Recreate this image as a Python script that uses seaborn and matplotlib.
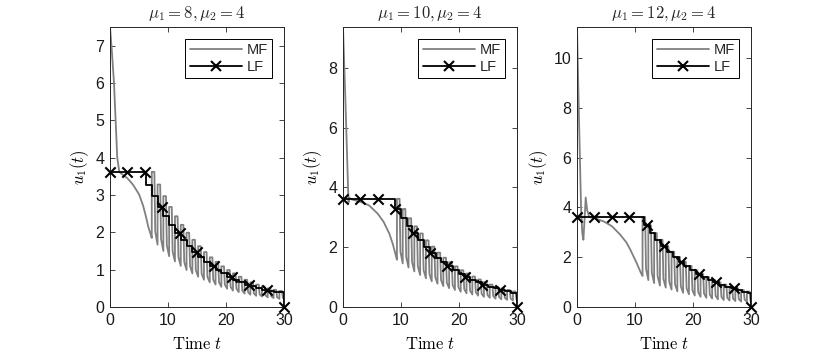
import numpy as np
import pandas as pd
import matplotlib
matplotlib.use("Agg")
import matplotlib.pyplot as plt
from matplotlib.lines import Line2D
import seaborn as sns

# ---------------- data ----------------
titles = [r"$\mu_1 = 8, \mu_2 = 4$", r"$\mu_1 = 10, \mu_2 = 4$", r"$\mu_1 = 12, \mu_2 = 4$"]
y_tops = [7.5, 9.37, 11.25]
y_ticks = [[0, 1, 2, 3, 4, 5, 6, 7], [0, 2, 4, 6, 8], [0, 2, 4, 6, 8, 10]]
x_ticks = [0, 10, 20, 30]
marker_t = [0, 3, 6, 9, 12, 15, 18, 21, 24, 27, 30]

# LF (step function, steps-post)
lf1_t = [0, 6.2, 7.2, 8.2, 9.2, 10.2, 11.2, 12.2, 13.2, 14.2, 15.2, 16.2, 17.2, 18.2,
         19.2, 20.2, 21.2, 22.2, 23.2, 24.2, 25.2, 26.2, 27.2, 28.2, 29.2, 30]
lf1_u = [3.62, 3.28, 2.97, 2.68, 2.43, 2.20, 1.99, 1.80, 1.63, 1.47, 1.33, 1.21, 1.09, 0.99,
         0.90, 0.81, 0.73, 0.66, 0.60, 0.55, 0.50, 0.46, 0.43, 0.41, 0.39, 0.0]
lf2_t = [0, 8.95, 9.95, 10.95, 11.95, 12.95, 13.95, 14.95, 15.95, 16.95, 17.95, 18.95,
         19.95, 20.95, 21.95, 22.95, 23.95, 24.95, 25.95, 26.95, 27.95, 28.95, 30]
lf2_u = [3.62, 3.28, 2.97, 2.70, 2.46, 2.23, 2.02, 1.82, 1.65, 1.50, 1.36, 1.23,
         1.12, 1.02, 0.92, 0.83, 0.75, 0.68, 0.62, 0.57, 0.52, 0.47, 0.0]
lf3_t = [0, 11.5, 12.5, 13.5, 14.5, 15.5, 16.5, 17.5, 18.5, 19.5, 20.5, 21.5, 22.5,
         23.5, 24.5, 25.5, 26.5, 27.5, 28.5, 29.5, 30]
lf3_u = [3.62, 3.28, 2.97, 2.70, 2.45, 2.22, 2.01, 1.82, 1.65, 1.47, 1.32, 1.20, 1.09,
         0.99, 0.90, 0.82, 0.75, 0.68, 0.62, 0.56, 0.0]

# MF: smooth initial part
mf1_t0 = [0, 0.3, 0.69, 0.97, 1.25, 1.6, 2.2, 3.0, 4.0, 5.0, 5.7, 6.2, 6.6, 6.9, 7.2]
mf1_u0 = [7.5, 6.9, 6.0, 5.0, 4.0, 3.62, 3.54, 3.45, 3.27, 3.02, 2.72, 2.42, 2.15, 2.0, 1.85]
mf2_t0 = [0, 0.4, 0.95, 1.1, 1.5, 3.0, 4.5, 6.0, 7.0, 8.0, 8.6, 9.0, 9.3]
mf2_u0 = [9.37, 7.0, 3.5, 3.66, 3.6, 3.52, 3.4, 3.12, 2.85, 2.45, 2.1, 1.8, 1.58]
mf3_t0 = [0, 0.35, 0.7, 0.9, 1.1, 1.3, 1.5, 1.75, 2.1, 3.0, 4.6, 6.0, 7.4, 8.5, 9.2, 10.3, 11.0, 11.3]
mf3_u0 = [11.25, 7.5, 4.0, 3.0, 2.7, 3.5, 4.4, 3.9, 3.62, 3.57, 3.44, 3.25, 2.92, 2.6, 2.3, 1.76, 1.38, 1.25]

# MF: sawtooth part (tooth start times, peaks, troughs incl. end value)
tooth1_t = [7.2, 8.2, 9.2, 10.2, 11.2, 12.2, 13.2, 14.2, 15.2, 16.2, 17.2, 18.2, 19.2,
            20.2, 21.2, 22.2, 23.2, 24.2, 25.2, 26.2, 27.2, 28.2, 29.2]
peak1 = [3.62, 3.28, 2.97, 2.68, 2.43, 2.20, 1.99, 1.80, 1.63, 1.47, 1.33, 1.21, 1.09,
         0.99, 0.90, 0.81, 0.73, 0.66, 0.60, 0.55, 0.50, 0.46, 0.43]
trough1 = [1.85, 1.67, 1.50, 1.36, 1.22, 1.10, 0.99, 0.90, 0.81, 0.73, 0.66, 0.60, 0.54,
           0.49, 0.44, 0.40, 0.36, 0.33, 0.30, 0.28, 0.26, 0.24, 0.22, 0.21]
tooth2_t = [9.3, 10.3, 11.3, 12.3, 13.3, 14.3, 15.3, 16.3, 17.3, 18.3, 19.3, 20.3,
            21.3, 22.3, 23.3, 24.3, 25.3, 26.3, 27.3, 28.3, 29.3]
peak2 = [3.62, 3.28, 2.97, 2.70, 2.46, 2.23, 2.02, 1.82, 1.65, 1.50, 1.36, 1.23,
         1.12, 1.02, 0.92, 0.83, 0.75, 0.68, 0.62, 0.57, 0.52]
trough2 = [1.58, 1.46, 1.32, 1.19, 1.07, 0.96, 0.86, 0.78, 0.70, 0.63, 0.57, 0.51,
           0.46, 0.42, 0.38, 0.34, 0.31, 0.28, 0.26, 0.24, 0.22, 0.21]
tooth3_t = [11.3, 12.3, 13.3, 14.3, 15.3, 16.3, 17.3, 18.3, 19.3, 20.3, 21.3, 22.3,
            23.3, 24.3, 25.3, 26.3, 27.3, 28.3, 29.3]
peak3 = [3.62, 3.28, 2.97, 2.70, 2.45, 2.22, 2.01, 1.82, 1.65, 1.47, 1.32, 1.20,
         1.09, 0.99, 0.90, 0.82, 0.75, 0.68, 0.62]
trough3 = [1.25, 1.08, 0.96, 0.86, 0.78, 0.70, 0.63, 0.57, 0.51, 0.46, 0.41, 0.37,
           0.34, 0.31, 0.28, 0.26, 0.24, 0.22, 0.21, 0.20]

T_END = 30

panels = [
    (mf1_t0, mf1_u0, tooth1_t, peak1, trough1, lf1_t, lf1_u),
    (mf2_t0, mf2_u0, tooth2_t, peak2, trough2, lf2_t, lf2_u),
    (mf3_t0, mf3_u0, tooth3_t, peak3, trough3, lf3_t, lf3_u),
]


def build_mf(t0, u0, tt, pk, tr):
    ts, us = list(t0), list(u0)
    ends = list(tt[1:]) + [T_END]
    for k, t in enumerate(tt):
        nxt = tr[k + 1]
        te = ends[k]
        ts += [t, t + 0.45, t + 0.6, te]
        us += [pk[k], pk[k], nxt + 0.18 * (pk[k] - nxt), nxt]
    return pd.DataFrame({"t": ts, "u": us})


# ---------------- style ----------------
sns.set_theme(style="ticks")
plt.rcParams["font.family"] = ["Liberation Sans", "DejaVu Sans"]
plt.rcParams["mathtext.fontset"] = "cm"
plt.rcParams["xtick.direction"] = "in"
plt.rcParams["ytick.direction"] = "in"
plt.rcParams["xtick.top"] = True
plt.rcParams["ytick.right"] = True

AX_COL = (0.15, 0.15, 0.15)
MF_COL = (0.5, 0.5, 0.5)

fig = plt.figure(figsize=(8.3, 3.56), dpi=100)
lefts = [110 / 830, 343 / 830, 577 / 830]
bottom = 1 - 307 / 356
height = (307 - 27) / 356
width = 174 / 830

for i, (t0, u0, tt, pk, tr, lft, lfu) in enumerate(panels):
    ax = fig.add_axes([lefts[i], bottom, width, height])
    mf = build_mf(t0, u0, tt, pk, tr)
    sns.lineplot(data=mf, x="t", y="u", sort=False, estimator=None, color=MF_COL,
                 lw=1.3, ax=ax, legend=False)
    lf = pd.DataFrame({"t": lft, "u": lfu})
    sns.lineplot(data=lf, x="t", y="u", sort=False, estimator=None, color="black",
                 lw=1.3, drawstyle="steps-post", ax=ax, legend=False)
    idx = np.searchsorted(np.array(lft), np.array(marker_t), side="right") - 1
    mk = pd.DataFrame({"t": marker_t, "u": np.array(lfu)[idx]})
    sns.scatterplot(data=mk, x="t", y="u", marker="x", color="black", s=55,
                    linewidth=1.5, ax=ax, legend=False, clip_on=False, zorder=5)

    ax.set_xlim(0, 30)
    ax.set_ylim(0, y_tops[i])
    ax.set_xticks(x_ticks)
    ax.set_yticks(y_ticks[i])
    ax.tick_params(axis="both", labelsize=11.5, colors=AX_COL, length=3.5, width=0.6,
                   pad=4)
    ax.tick_params(axis="both", labelcolor=(0.1, 0.1, 0.1))
    for sp in ax.spines.values():
        sp.set_color(AX_COL)
        sp.set_linewidth(0.7)
    ax.set_xlabel(r"$\mathrm{Time}\ t$", fontsize=12, labelpad=6, color="black")
    ax.set_ylabel(r"$u_1(t)$", fontsize=12, labelpad=3, color="black")
    ax.set_title(titles[i], fontsize=12, pad=7)

    handles = [Line2D([], [], color=MF_COL, lw=1.3),
               Line2D([], [], color="black", lw=1.3, marker="x", ms=7, mew=1.5)]
    leg = ax.legend(handles, ["MF", "LF"], loc="upper right", fontsize=10.5,
                    frameon=True, fancybox=False, edgecolor="black", framealpha=1,
                    handlelength=3.6, handletextpad=0.3, borderpad=0.3,
                    labelspacing=0.2, borderaxespad=0.8)
    leg.get_frame().set_linewidth(0.7)

fig.savefig("out.png", dpi=100)
